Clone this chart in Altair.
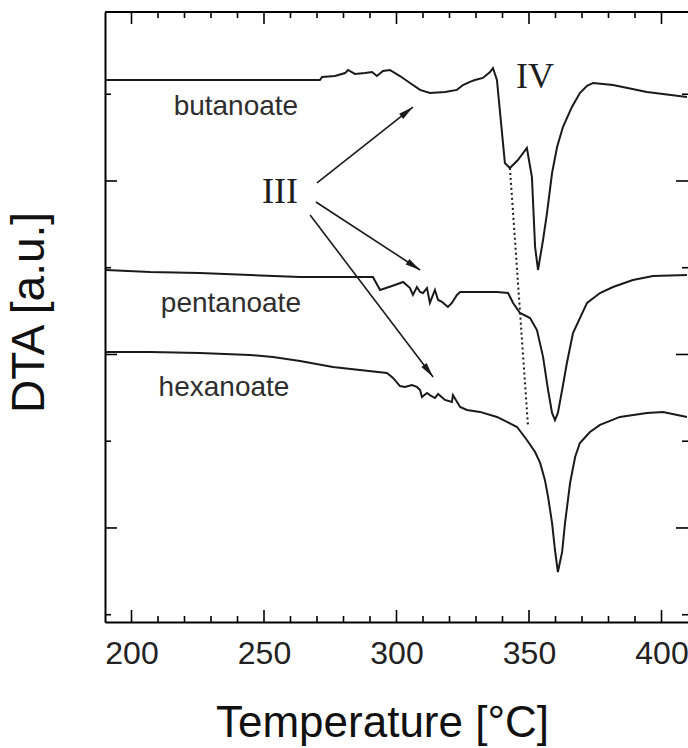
import math
import altair as alt
import pandas as pd

# ---------------- data ----------------
but_T = [190.4, 271.1, 271.9, 276.8, 280.6, 281.7, 284.3, 288.1, 290.8, 292.6,
         294.9, 297.5, 301.3, 305.1, 308.9, 312.6, 318.3, 322.8, 325.1, 327.7,
         329.6, 332.6, 335.3, 336.4, 337.9, 340.9, 342.8, 345.8, 349.2, 351.1,
         352.3, 353.4, 355.3, 356.8, 358.7, 360.6, 362.8, 366.2, 369.2, 371.9,
         374.2, 381.7, 394.5, 409.6]
but_v = [3.582, 3.582, 3.599, 3.605, 3.622, 3.640, 3.617, 3.622, 3.628, 3.605,
         3.634, 3.640, 3.605, 3.565, 3.525, 3.507, 3.513, 3.525, 3.553, 3.571,
         3.582, 3.594, 3.628, 3.651, 3.582, 3.104, 3.075, 3.121, 3.190, 3.023,
         2.620, 2.487, 2.660, 2.816, 3.046, 3.196, 3.311, 3.427, 3.507, 3.548,
         3.565, 3.553, 3.513, 3.484]

pen_T = [190.4, 207.0, 225.8, 244.7, 263.6, 291.1, 293.8, 298.3, 302.5, 305.1,
         306.2, 307.7, 308.9, 310.0, 311.5, 312.6, 314.5, 315.7, 317.2, 319.4,
         320.9, 322.8, 324.0, 337.9, 342.1, 344.0, 346.6, 350.4, 353.0, 355.3,
         357.2, 358.7, 359.8, 360.9, 362.5, 364.3, 366.6, 371.9, 376.8, 381.7,
         389.2, 396.8, 409.6]
pen_v = [2.487, 2.475, 2.470, 2.458, 2.447, 2.447, 2.372, 2.395, 2.418, 2.383,
         2.343, 2.389, 2.360, 2.354, 2.383, 2.297, 2.372, 2.314, 2.303, 2.274,
         2.297, 2.343, 2.360, 2.360, 2.354, 2.297, 2.239, 2.210, 2.141, 1.986,
         1.795, 1.663, 1.622, 1.663, 1.795, 1.951, 2.124, 2.297, 2.354, 2.389,
         2.429, 2.452, 2.458]

hex_T = [190.4, 207.0, 225.8, 244.7, 253.4, 263.6, 276.0, 286.2, 296.4, 298.7,
         301.3, 303.2, 305.8, 307.7, 308.9, 309.6, 311.5, 312.6, 314.5, 315.7,
         318.3, 320.9, 321.3, 324.0, 326.6, 331.5, 337.9, 341.7, 345.5, 349.2,
         352.3, 354.2, 356.0, 357.2, 358.7, 359.8, 360.9, 362.5, 363.6, 365.5,
         367.4, 369.2, 373.0, 376.8, 384.3, 394.5, 400.6, 409.6]
hex_v = [2.014, 2.014, 2.008, 1.997, 1.985, 1.963, 1.928, 1.911, 1.893, 1.865,
         1.818, 1.813, 1.824, 1.813, 1.795, 1.755, 1.778, 1.766, 1.749, 1.772,
         1.738, 1.726, 1.766, 1.697, 1.680, 1.669, 1.640, 1.611, 1.582, 1.507,
         1.438, 1.375, 1.277, 1.179, 1.029, 0.873, 0.746, 0.862, 1.029, 1.259,
         1.409, 1.490, 1.553, 1.594, 1.640, 1.663, 1.669, 1.640]

names = ["butanoate", "pentanoate", "hexanoate"]
name_T = [239.4, 237.5, 234.9]
name_v = [3.380, 2.245, 1.761]

roman = ["III", "IV"]
roman_T = [256.0, 352.3]
roman_v = [2.873, 3.536]

# arrows from "III" to the three curves (start -> tip)
arr_T0 = [270.0, 269.6, 267.4]
arr_v0 = [2.989, 2.879, 2.804]
arr_T1 = [306.2, 308.9, 313.8]
arr_v1 = [3.426, 2.487, 1.870]

# dotted guide line
dot_T0, dot_v0, dot_T1, dot_v1 = [342.8], [3.075], [349.6], [1.594]

x_labels = [200, 250, 300, 350, 400]
x_minor = [210, 220, 230, 240, 260, 270, 280, 290, 310, 320, 330, 340,
           360, 370, 380, 390]
y_major = [1, 2, 3]
y_minor = [0.5, 1.5, 2.5, 3.5]

# ---------------- layout ----------------
W, H = 583, 610
X_DOMAIN = [190, 410]
Y_DOMAIN = [0.458, 3.974]
FONT = "Liberation Sans"
INK = "#1a1a1a"
MAJ, MIN = 12, 6

XPP = (X_DOMAIN[1] - X_DOMAIN[0]) / W   # data units per pixel
YPP = (Y_DOMAIN[1] - Y_DOMAIN[0]) / H


def to_px(t):
    return (t - X_DOMAIN[0]) / (X_DOMAIN[1] - X_DOMAIN[0]) * W


def to_py(v):
    return (Y_DOMAIN[1] - v) / (Y_DOMAIN[1] - Y_DOMAIN[0]) * H


xs = alt.Scale(domain=X_DOMAIN, nice=False, zero=False)
ys = alt.Scale(domain=Y_DOMAIN, nice=False, zero=False)

frames = []
for nm, T, V in [("butanoate", but_T, but_v), ("pentanoate", pen_T, pen_v),
                 ("hexanoate", hex_T, hex_v)]:
    frames.append(pd.DataFrame({"T": T, "v": V, "sample": nm, "i": range(len(T))}))
curves = pd.concat(frames, ignore_index=True)

x_axis = alt.Axis(orient="bottom", values=x_labels, format="d", grid=False,
                  ticks=False, tickSize=0, domain=True, domainColor="black",
                  domainWidth=2, labelFont=FONT, labelFontSize=32,
                  labelColor="#222222", labelBaseline="alphabetic",
                  labelPadding=41, labelFlush=False,
                  title="Temperature [°C]", titleFont=FONT, titleFontSize=44,
                  titleFontWeight="normal", titleColor="#111111",
                  titleX=277, titleY=114, titleAlign="center",
                  titleBaseline="alphabetic")
y_axis = alt.Axis(orient="left", grid=False, ticks=False, tickSize=0,
                  labels=False, domain=True, domainColor="black",
                  domainWidth=2, title="DTA [a.u.]", titleFont=FONT,
                  titleFontSize=46, titleFontWeight="normal",
                  titleColor="#111111", titleAngle=270, titleX=-62,
                  titleY=300, titleAlign="center", titleBaseline="alphabetic")

curve_layer = alt.Chart(curves).mark_line(color=INK, strokeWidth=2).encode(
    x=alt.X("T:Q", scale=xs, axis=x_axis),
    y=alt.Y("v:Q", scale=ys, axis=y_axis),
    detail="sample:N",
    order="i:Q",
)

# top frame line along the upper edge of the y domain
top_df = pd.DataFrame({"xa": [X_DOMAIN[0]], "xb": [X_DOMAIN[1]],
                       "yt": [Y_DOMAIN[1]]})
top_frame = alt.Chart(top_df).mark_rule(color="black", strokeWidth=2).encode(
    x=alt.X("xa:Q", scale=xs), x2="xb:Q",
    y=alt.Y("yt:Q", scale=ys))

# inward ticks on all four sides, as short segments in one layer
seg = []
for vals, ln in [(y_major, MAJ), (y_minor, MIN)]:
    for v in vals:
        seg.append({"sx0": X_DOMAIN[0], "sx1": X_DOMAIN[0] + ln * XPP,
                    "sy0": v, "sy1": v})
        seg.append({"sx0": X_DOMAIN[1] - ln * XPP, "sx1": X_DOMAIN[1],
                    "sy0": v, "sy1": v})
for vals, ln in [(x_labels, MAJ), (x_minor, MIN)]:
    for v in vals:
        seg.append({"sx0": v, "sx1": v, "sy0": Y_DOMAIN[0],
                    "sy1": Y_DOMAIN[0] + ln * YPP})
        seg.append({"sx0": v, "sx1": v, "sy0": Y_DOMAIN[1] - ln * YPP,
                    "sy1": Y_DOMAIN[1]})
ticks = alt.Chart(pd.DataFrame(seg)).mark_rule(
    color="black", strokeWidth=1.6).encode(
    x=alt.X("sx0:Q", scale=xs), x2="sx1:Q",
    y=alt.Y("sy0:Q", scale=ys), y2="sy1:Q")

names_df = pd.DataFrame({"T": name_T, "v": name_v, "text": names})
name_layer = alt.Chart(names_df).mark_text(
    font=FONT, fontSize=28, color="#2e2e2e", align="center",
    baseline="alphabetic").encode(
    x=alt.X("T:Q", scale=xs),
    y=alt.Y("v:Q", scale=ys),
    text="text:N")

roman_df = pd.DataFrame({"T": roman_T, "v": roman_v, "text": roman})
roman_layer = alt.Chart(roman_df).mark_text(
    font="Liberation Serif", fontSize=36, color="#1e1e1e", align="center",
    baseline="alphabetic").encode(
    x=alt.X("T:Q", scale=xs),
    y=alt.Y("v:Q", scale=ys),
    text="text:N")

angles = []
for t0, v0, t1, v1 in zip(arr_T0, arr_v0, arr_T1, arr_v1):
    dx = to_px(t1) - to_px(t0)
    dy = to_py(v1) - to_py(v0)
    angles.append(math.degrees(math.atan2(dx, -dy)) % 360)

arrows_df = pd.DataFrame({"T0": arr_T0, "v0": arr_v0, "T1": arr_T1,
                          "v1": arr_v1, "ang": angles})
arrow_lines = alt.Chart(arrows_df).mark_rule(color=INK, strokeWidth=1.6).encode(
    x=alt.X("T0:Q", scale=xs),
    y=alt.Y("v0:Q", scale=ys),
    x2="T1:Q", y2="v1:Q")
ARROW = "M0,0L-0.33,1.5L0.33,1.5Z"
arrow_heads = alt.Chart(arrows_df).mark_point(
    shape=ARROW, filled=True, size=400, color=INK, opacity=1,
    strokeWidth=0).encode(
    x=alt.X("T1:Q", scale=xs),
    y=alt.Y("v1:Q", scale=ys),
    angle=alt.Angle("ang:Q", scale=None))

dot_df = pd.DataFrame({"T0": dot_T0, "v0": dot_v0, "T1": dot_T1, "v1": dot_v1})
dot_layer = alt.Chart(dot_df).mark_rule(
    color=INK, strokeWidth=2, strokeDash=[2, 3]).encode(
    x=alt.X("T0:Q", scale=xs),
    y=alt.Y("v0:Q", scale=ys),
    x2="T1:Q", y2="v1:Q")

chart = alt.layer(
    curve_layer, top_frame, ticks, dot_layer, arrow_lines,
    arrow_heads, name_layer, roman_layer
).properties(
    width=W, height=H, autosize="none",
    padding={"left": 105, "top": 12, "right": 0, "bottom": 126},
    background="white",
).configure_view(stroke=None)

chart.save("out.html", embed_options={"renderer": "svg", "actions": False})
